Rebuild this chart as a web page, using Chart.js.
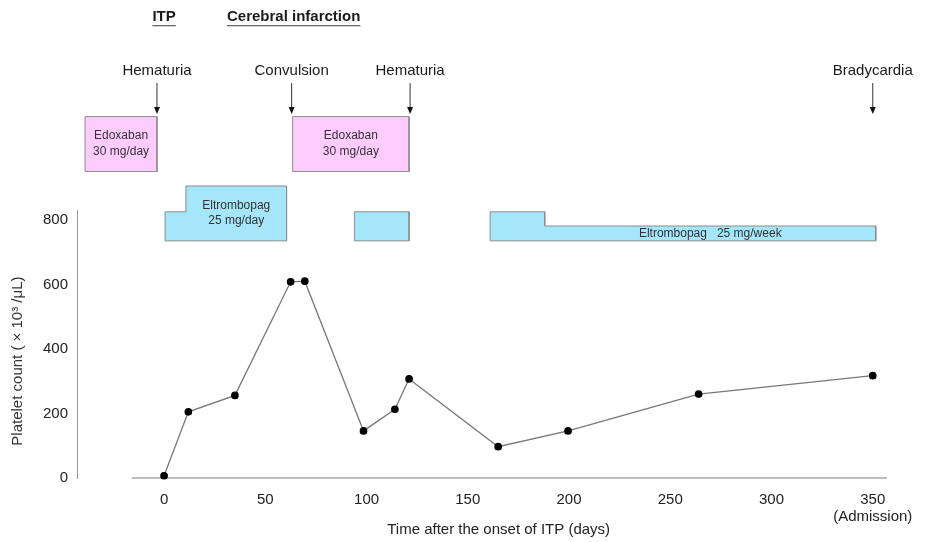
<!DOCTYPE html>
<html>
<head>
<meta charset="utf-8">
<script src="https://cdn.jsdelivr.net/npm/chart.js@4.4.1/dist/chart.umd.min.js"></script>
<style>
  html, body { margin: 0; padding: 0; background: #fff; }
  #wrap { width: 927px; height: 542px; }
</style>
</head>
<body>
<div id="wrap"><canvas id="plateletChart"></canvas></div>
<script>
// platelet count (x10^3/uL) against days after ITP onset
const days = [0, 12, 35, 62.5, 69.5, 98.5, 114, 121, 165, 199.5, 264, 350];
const platelets = [7, 205, 256, 608, 610, 146, 213, 307, 97, 146, 260, 317];

const xTicks = [0, 50, 100, 150, 200, 250, 300, 350];
const yTicks = [0, 200, 400, 600, 800];

const headings = ['ITP', 'Cerebral infarction'];
const headingDays = [0, 64];

const events = ['Hematuria', 'Convulsion', 'Hematuria', 'Bradycardia'];
const eventDays = [-3.5, 63, 121.5, 350];

// treatments, in days
const edoxabanPeriods = [[-39, -3.5], [63.5, 121]];
const edoxabanLabel = ['Edoxaban', '30 mg/day'];

// each block: list of [from, to, level] steps
const eltrombopagBlocks = [
    [[0.5, 10.8, 'mid'], [10.8, 60.5, 'high']],
    [[94, 121, 'mid']],
    [[161, 188, 'mid'], [188, 351.5, 'low']]
];
const eltrombopagLabels = [['Eltrombopag', '25 mg/day'], [], ['Eltrombopag   25 mg/week']];
const eltrombopagLabelStep = [1, 0, 1];

// vertical placement of the treatment boxes (in y units), layout only
const boxLevels = { bottom: 735, low: 781, mid: 825, high: 905, edoBottom: 950, edoTop: 1120 };

const FONT = '"Liberation Sans", Arial, sans-serif';

function blockOutline(steps, bottom) {
    const pts = [{ x: steps[0][0], y: bottom }];
    steps.forEach(([from, to, lvl]) => {
        pts.push({ x: from, y: boxLevels[lvl] }, { x: to, y: boxLevels[lvl] });
    });
    pts.push({ x: steps[steps.length - 1][1], y: bottom });
    pts.push({ x: steps[0][0], y: bottom });
    return pts;
}

function boxDataset(points, color) {
    return {
        data: points,
        yAxisID: 'y',
        showLine: true,
        fill: 'shape',
        clip: false,
        backgroundColor: color,
        borderColor: '#8c8c8c',
        borderWidth: 1,
        pointRadius: 0,
        tension: 0,
        order: 2
    };
}

const datasets = [{
    data: days.map((d, i) => ({ x: d, y: platelets[i] })),
    yAxisID: 'y',
    borderColor: '#777',
    borderWidth: 1.3,
    pointRadius: 3.2,
    pointBackgroundColor: '#000',
    pointBorderColor: '#000',
    tension: 0,
    fill: false,
    clip: false,
    order: 0
}];
edoxabanPeriods.forEach(([from, to]) => {
    datasets.push(boxDataset(blockOutline([[from, to, 'edoTop']], boxLevels.edoBottom), '#FFCCFF'));
});
eltrombopagBlocks.forEach(steps => {
    datasets.push(boxDataset(blockOutline(steps, boxLevels.bottom), '#A6E6FA'));
});

const xAxisStart = -16;

const extras = {
    id: 'extras',
    beforeDatasetsDraw(chart) {
        const { ctx, scales: { x, y } } = chart;
        ctx.save();
        ctx.strokeStyle = '#a8a8a8';
        ctx.lineWidth = 1.5;
        ctx.beginPath();
        ctx.moveTo(x.getPixelForValue(xAxisStart), y.getPixelForValue(0));
        ctx.lineTo(chart.chartArea.right, y.getPixelForValue(0));
        ctx.stroke();
        ctx.restore();
    },
    afterDatasetsDraw(chart) {
        const { ctx, scales: { x, y } } = chart;
        ctx.save();
        ctx.textAlign = 'center';
        ctx.textBaseline = 'middle';

        // headings
        ctx.font = 'bold 15px ' + FONT;
        headings.forEach((h, i) => {
            const px = x.getPixelForValue(headingDays[i]);
            ctx.fillStyle = '#1a1a1a';
            ctx.fillText(h, px, 17);
            const w = ctx.measureText(h).width;
            ctx.fillStyle = '#666';
            ctx.fillRect(px - w / 2, 25, w, 1.3);
        });

        // events with arrows
        ctx.font = '15px ' + FONT;
        events.forEach((ev, i) => {
            const px = x.getPixelForValue(eventDays[i]);
            ctx.fillStyle = '#1a1a1a';
            ctx.fillText(ev, px, 71);
            ctx.strokeStyle = '#333';
            ctx.lineWidth = 1;
            ctx.beginPath();
            ctx.moveTo(px, 83);
            ctx.lineTo(px, 108);
            ctx.stroke();
            ctx.fillStyle = '#111';
            ctx.beginPath();
            ctx.moveTo(px - 3, 107);
            ctx.lineTo(px + 3, 107);
            ctx.lineTo(px, 114);
            ctx.closePath();
            ctx.fill();
        });

        // treatment labels
        ctx.font = '12px ' + FONT;
        ctx.fillStyle = '#333';
        edoxabanPeriods.forEach(([from, to]) => {
            const cx = x.getPixelForValue((from + to) / 2);
            const cy = y.getPixelForValue((boxLevels.edoBottom + boxLevels.edoTop) / 2);
            ctx.fillText(edoxabanLabel[0], cx, cy - 8);
            ctx.fillText(edoxabanLabel[1], cx, cy + 8);
        });
        eltrombopagBlocks.forEach((steps, i) => {
            const lines = eltrombopagLabels[i];
            if (!lines.length) return;
            const [from, to, lvl] = steps[eltrombopagLabelStep[i]];
            const cx = x.getPixelForValue((from + to) / 2);
            const cy = y.getPixelForValue((boxLevels.bottom + boxLevels[lvl]) / 2);
            lines.forEach((t, k) => {
                ctx.fillText(t, cx, cy + (k - (lines.length - 1) / 2) * 15);
            });
        });
        ctx.restore();
    }
};

new Chart(document.getElementById('plateletChart').getContext('2d'), {
    type: 'line',
    data: { datasets: datasets },
    plugins: [extras],
    options: {
        responsive: true,
        maintainAspectRatio: false,
        animation: false,
        layout: { padding: { top: 0, right: 37, bottom: 0, left: 0 } },
        plugins: { legend: { display: false }, tooltip: { enabled: false } },
        scales: {
            y: {
                type: 'linear',
                position: 'left',
                stack: 'left',
                stackWeight: 266,
                min: 0,
                max: 828,
                grid: { display: false, drawTicks: false },
                border: { display: true, color: '#999', width: 1 },
                afterBuildTicks: s => { s.ticks = yTicks.map(v => ({ value: v })); },
                ticks: {
                    color: '#222',
                    padding: 9,
                    font: { family: FONT, size: 15 }
                },
                title: {
                    display: true,
                    // trailing spaces nudge the rotated title down like the original
                    text: 'Platelet count ( \u00d7 10\u00b3 /\u03bcL)        ',
                    color: '#333',
                    font: { family: FONT, size: 15 },
                    padding: { top: 9, bottom: 0 }
                },
                afterFit: s => { s.width = 77; }
            },
            yTop: {
                type: 'linear',
                position: 'left',
                stack: 'left',
                stackWeight: 192,
                min: 0,
                max: 1,
                grid: { display: false, drawTicks: false },
                border: { display: false },
                ticks: { display: false },
                afterFit: s => { s.width = 77; }
            },
            x: {
                type: 'linear',
                position: 'bottom',
                min: -43,
                max: 357,
                grid: { display: false, drawTicks: false },
                border: { display: false },
                afterBuildTicks: s => { s.ticks = xTicks.map(v => ({ value: v })); },
                ticks: {
                    color: '#222',
                    padding: 14,
                    maxRotation: 0,
                    font: { family: FONT, size: 15, lineHeight: 1.1 },
                    callback: v => v === 350 ? ['350', '(Admission)'] : String(v)
                },
                title: {
                    display: true,
                    text: '        Time after the onset of ITP (days)',
                    color: '#222',
                    font: { family: FONT, size: 15 },
                    padding: { top: 0, bottom: 3 }
                },
                afterFit: s => { s.height = 64; }
            }
        }
    }
});
</script>
</body>
</html>
